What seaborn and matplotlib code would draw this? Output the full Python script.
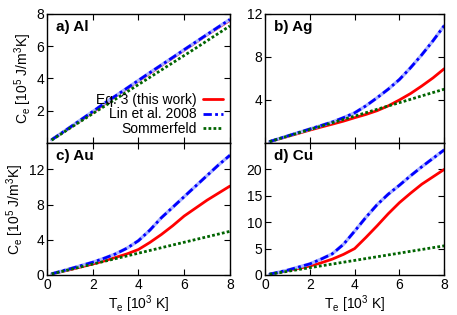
import numpy as np
import pandas as pd
import seaborn as sns
import matplotlib.pyplot as plt

sns.set_style("ticks")
plt.rcParams['font.family'] = ['Liberation Sans', 'DejaVu Sans']
plt.rcParams['mathtext.fontset'] = 'custom'
plt.rcParams['mathtext.rm'] = 'Liberation Sans'
plt.rcParams['mathtext.it'] = 'Liberation Sans:italic'
plt.rcParams['font.size'] = 10
for k in ['text.color', 'axes.labelcolor', 'xtick.color', 'ytick.color', 'axes.edgecolor']:
    plt.rcParams[k] = 'black'

# --- Data, T_e in 10^3 K, C_e in 10^5 J/m^3K ---
T = [0.2, 1, 2, 2.5, 3, 3.5, 4, 4.5, 5, 5.5, 6, 6.5, 7, 7.5, 8]

al_eq3 = [0.2, 0.95, 1.9, 2.4, 2.9, 3.37, 3.85, 4.32, 4.8, 5.27, 5.75, 6.22, 6.7, 7.15, 7.6]
al_lin = [0.2, 0.97, 1.95, 2.45, 2.92, 3.4, 3.88, 4.36, 4.83, 5.3, 5.78, 6.25, 6.72, 7.19, 7.65]
al_som = [0.18, 0.92, 1.82, 2.27, 2.72, 3.17, 3.62, 4.07, 4.52, 4.97, 5.42, 5.87, 6.33, 6.79, 7.25]

ag_eq3 = [0.12, 0.6, 1.2, 1.48, 1.75, 2.03, 2.35, 2.65, 3.0, 3.45, 4.0, 4.6, 5.3, 6.05, 6.9]
ag_lin = [0.13, 0.65, 1.3, 1.62, 1.95, 2.35, 2.8, 3.45, 4.2, 5.0, 5.9, 7.0, 8.2, 9.5, 10.9]
ag_som = [0.13, 0.63, 1.25, 1.56, 1.88, 2.19, 2.5, 2.81, 3.13, 3.44, 3.75, 4.06, 4.38, 4.69, 5.0]

au_eq3 = [0.12, 0.6, 1.25, 1.6, 2.0, 2.4, 2.9, 3.7, 4.6, 5.6, 6.7, 7.6, 8.5, 9.3, 10.1]
au_lin = [0.13, 0.7, 1.45, 1.9, 2.4, 3.05, 3.9, 5.1, 6.5, 7.7, 8.9, 10.1, 11.3, 12.5, 13.6]
au_som = [0.12, 0.62, 1.24, 1.55, 1.86, 2.17, 2.48, 2.79, 3.1, 3.41, 3.72, 4.03, 4.34, 4.65, 4.96]

cu_eq3 = [0.14, 0.8, 1.7, 2.3, 3.0, 3.9, 5.0, 7.1, 9.3, 11.6, 13.7, 15.5, 17.2, 18.6, 20.0]
cu_lin = [0.15, 0.9, 2.1, 3.0, 4.0, 5.8, 8.3, 10.9, 13.3, 15.3, 17.0, 18.8, 20.5, 22.1, 23.7]
cu_som = [0.14, 0.69, 1.38, 1.73, 2.07, 2.42, 2.76, 3.11, 3.45, 3.8, 4.14, 4.49, 4.83, 5.18, 5.52]

labels = ['Eq. 3 (this work)', 'Lin et al. 2008', 'Sommerfeld']
panels = ['a) Al', 'b) Ag', 'c) Au', 'd) Cu']
data = [(al_eq3, al_lin, al_som), (ag_eq3, ag_lin, ag_som),
        (au_eq3, au_lin, au_som), (cu_eq3, cu_lin, cu_som)]
yticks = [[2, 4, 6, 8], [4, 8, 12], [0, 4, 8, 12], [0, 5, 10, 15, 20]]
ylims = [8, 12, 15, 25]

fig = plt.figure(figsize=(4.57, 3.15), dpi=100)
boxes = [(0.103, 0.546, 0.400, 0.410), (0.580, 0.546, 0.392, 0.410),
         (0.103, 0.127, 0.400, 0.419), (0.580, 0.127, 0.392, 0.419)]

for i, (box, (eq3, lin, som)) in enumerate(zip(boxes, data)):
    ax = fig.add_axes(box)
    sns.lineplot(x=T, y=eq3, ax=ax, color='#ff0000', lw=2, label=labels[0])
    sns.lineplot(x=T, y=lin, ax=ax, color='#aab4ff', lw=2.4)
    sns.lineplot(x=T, y=lin, ax=ax, color='#0000ff', lw=2, label=labels[1])
    ax.lines[-1].set_linestyle((0, (3, 1.2, 1, 1.2)))
    sns.lineplot(x=T, y=som, ax=ax, color='#006400', lw=2, label=labels[2])
    ax.lines[-1].set_linestyle((0, (1, 0.8)))

    ax.set_xlim(0, 8)
    ax.set_ylim(0, ylims[i])
    ax.set_xticks([0, 2, 4, 6, 8])
    ax.set_yticks(yticks[i])
    ax.tick_params(direction='in', top=True, right=True, length=4, width=0.8,
                   labelsize=10, pad=2)
    for s in ax.spines.values():
        s.set_linewidth(1)
    if i < 2:
        ax.set_xticklabels([])
    else:
        ax.set_xlabel('T$_\\mathrm{e}$ [10$^3$ K]', fontsize=10, labelpad=1)
    if i % 2 == 0:
        ax.set_ylabel('C$_\\mathrm{e}$ [10$^5$ J/m$^3$K]', fontsize=10, labelpad=2)
    ax.text(0.05, 0.9, panels[i], transform=ax.transAxes, fontsize=11,
            fontweight='bold', va='center', ha='left')
    if i == 0:
        ax.legend(loc='lower right', markerfirst=False, frameon=False,
                  handlelength=1.4, fontsize=10, labelspacing=0.05,
                  borderaxespad=0.1, handletextpad=0.5)
    else:
        ax.get_legend().remove()

fig.savefig('out.png', dpi=100)
